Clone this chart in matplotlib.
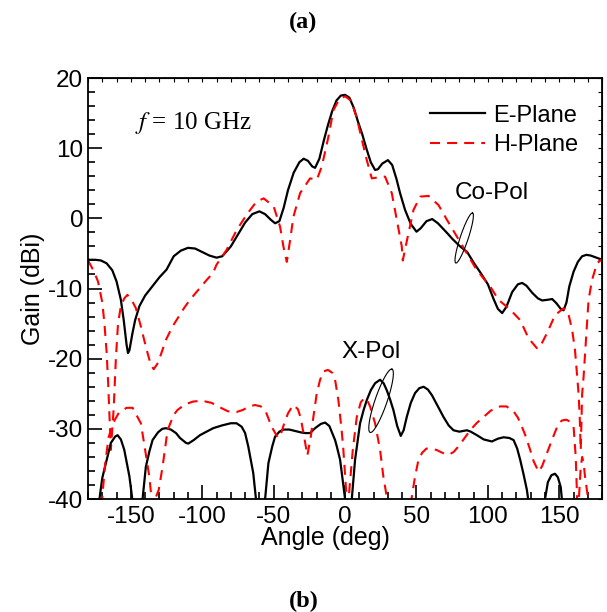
import numpy as np
import matplotlib
matplotlib.use('Agg')
import matplotlib.pyplot as plt
from matplotlib.ticker import MultipleLocator

plt.rcParams['font.family'] = 'Liberation Sans'
plt.rcParams['axes.unicode_minus'] = False

# E-plane, co-polar
e_co_ang = [-180, -175, -171, -167, -163, -160, -157, -155, -153, -152, -151, -149,
            -147, -144, -140, -135, -130, -125, -120, -115, -110, -105, -100, -95,
            -90, -86, -80, -75, -70, -65, -60, -56, -52, -49, -46, -43, -40, -36,
            -32, -29, -26, -23, -21, -18, -15, -12, -9, -6, -3, 0, 3, 6, 9, 12, 15,
            18, 21, 23, 26, 30, 33, 36, 38.5, 42, 46, 50, 53, 57, 61, 65, 71.5, 75,
            80, 85.5, 90, 95, 100, 104, 107, 110, 113, 117, 121, 124, 127, 131, 135,
            138, 142, 145, 148, 151, 153, 155, 157, 160, 163, 166, 169, 172, 176, 180]
e_co_gain = [-5.9, -5.9, -6.0, -6.4, -7.4, -9.0, -11.6, -14.5, -18.0, -19.2, -18.8, -16.5,
             -14.5, -12.5, -11.0, -9.7, -8.4, -7.3, -5.4, -4.6, -4.2, -4.3, -4.8, -5.3,
             -5.6, -5.4, -4.0, -2.3, -0.6, 0.6, 1.0, 0.6, -0.2, -0.7, -0.4, 1.5, 4.0, 6.5,
             8.0, 8.5, 8.2, 7.4, 7.2, 8.5, 11.0, 13.3, 15.3, 16.8, 17.5, 17.6, 17.2, 15.8,
             13.8, 12.0, 9.9, 8.0, 6.9, 7.0, 7.8, 8.3, 7.6, 5.6, 3.6, 1.2, -0.8, -1.9, -1.4,
             -0.4, -0.1, -0.7, -2.1, -2.9, -3.9, -4.8, -6.3, -7.8, -9.4, -11.5, -12.9,
             -13.5, -12.6, -10.5, -9.4, -9.2, -9.6, -10.6, -11.4, -11.7, -11.6, -11.5,
             -12.1, -12.9, -13.1, -12.0, -9.7, -7.6, -6.2, -5.4, -5.2, -5.3, -5.6, -5.9]

# H-plane, co-polar
h_co_ang = [-180, -176, -173, -170, -168.5, -167, -166, -165, -164, -163, -162, -160.5,
            -159, -157, -154.6, -152.4, -149, -146.5, -143, -139.5, -136, -134, -131,
            -125.4, -120.8, -112.8, -108.6, -97, -92.5, -90, -83, -76, -69, -62, -57,
            -50, -45.5, -43.2, -40.8, -38.5, -36.2, -31.5, -24.5, -19.8, -16.3, -11.7,
            -8.2, -4, 0, 4, 8, 12, 15.2, 18.7, 22, 28, 32.7, 36.2, 39.7, 40.4, 44.4,
            47.9, 52.6, 58.4, 65.4, 71.3, 78.3, 85.3, 92.3, 96.7, 101.6, 107.4, 115.6,
            122.6, 128.5, 134.3, 136, 141.3, 147, 153, 156, 159, 161, 162.3, 163.5,
            164.3, 165, 166, 167, 168.2, 169.4, 170.5, 172.9, 176.4, 180]
h_co_gain = [-6.0, -7.5, -9.0, -12.0, -15.0, -19.0, -23.0, -28.0, -33.0, -30.0, -27.0,
             -20.0, -15.0, -12.5, -11.4, -10.9, -11.8, -12.8, -15.4, -18.3, -20.9, -21.5,
             -20.6, -17.3, -15.4, -12.8, -11.6, -8.8, -7.8, -6.6, -4.5, -1.7, 0.5, 2.4,
             2.85, 1.7, -1.2, -4.0, -6.2, -3.1, 0.2, 3.6, 5.7, 5.5, 7.4, 11.6, 15.4, 17.0,
             17.4, 16.8, 14.5, 11.0, 8.3, 5.7, 5.8, 5.95, 3.6, -0.2, -4.0, -6.0, -2.1,
             1.2, 3.1, 3.2, 1.9, -0.2, -2.6, -5.0, -7.4, -8.5, -9.7, -11.6, -13.0, -14.5,
             -17.1, -18.5, -18.5, -16.4, -13.8, -12.8, -13.3, -15.9, -18.8, -22.0, -25.0,
             -28.3, -33.0, -25.0, -22.6, -18.8, -15.0, -11.6, -8.8, -6.4, -5.8]

# E-plane, cross-polar
e_x_ang = [-180, -174, -172, -170, -167.5, -164, -161, -159.3, -157, -154.6, -151, -149,
           -148, -143, -141.8, -139.5, -137, -134.8, -131, -128, -125.4, -122, -118.4,
           -115.6, -111.4, -109.8, -106, -101.6, -97, -92.3, -86, -80, -76, -72.4, -70,
           -67.8, -64.3, -62.4, -61.5, -57, -56, -53.7, -51, -49, -46, -43.2, -39, -35,
           -31, -28, -24.5, -21, -17, -14, -11, -7, -5.8, -3.5, -2.3, 0, 1, 3.5, 4.7, 7,
           10.5, 13, 15.2, 18, 21, 24.5, 27, 29.2, 31.5, 33.8, 36.5, 39, 41, 43.2, 46,
           49, 52, 55, 58, 60.8, 65, 68.9, 72.5, 75.9, 80, 85.3, 88, 92.3, 97, 102.8,
           107, 111, 115, 118, 120.5, 122.6, 125, 127.3, 128.2, 129, 139, 140, 142,
           144.5, 147, 149, 151, 151.8, 152.5, 180]
e_x_gain = [-45, -45, -40, -37, -34.9, -32, -31.1, -30.9, -31.5, -33, -36.8, -40, -44,
            -44, -40, -35.4, -33.2, -31.6, -30.5, -30.0, -29.9, -30.1, -30.6, -31.3, -32.0,
            -32.1, -31.6, -30.9, -30.4, -29.9, -29.5, -29.2, -29.2, -29.7, -30.6, -32.5,
            -36.3, -40, -44, -44, -40, -34.9, -32.5, -31.1, -30.4, -30.1, -30.1, -30.3,
            -30.5, -30.6, -30.6, -29.9, -29.3, -29.1, -29.6, -31.6, -32.5, -34.4, -36.3,
            -40, -43, -43, -40, -34.4, -29.2, -27.3, -25.9, -24.5, -23.5, -23.0, -23.5,
            -24.5, -25.8, -27.3, -29.6, -31.0, -30.2, -28.3, -26.3, -24.9, -24.2, -24.0,
            -24.4, -25.2, -26.8, -28.3, -29.5, -30.2, -30.4, -30.2, -30.4, -30.9, -31.5,
            -31.8, -31.4, -31.2, -31.3, -31.6, -32.8, -34.4, -36.5, -38.7, -40, -44, -44,
            -40, -37.6, -36.6, -36.4, -36.9, -38.3, -40, -44, -44]

# H-plane, cross-polar
h_x_ang = [-180, -171, -170, -168, -165.6, -162, -158.4, -153, -148.8, -143, -140, -137,
           -135.5, -134.5, -133, -130.5, -127.8, -124.3, -120, -117.3, -112, -106.3, -100,
           -93.4, -87, -82, -76, -71.5, -67, -63, -59, -56, -51.4, -47, -45, -43.4, -40,
           -36.4, -33, -31, -28.7, -26.4, -24, -22.2, -19.8, -17.5, -15, -12, -9, -7,
           -4.7, -2.5, -1.2, 0.7, 1.8, 3, 3.5, 5.4, 8.2, 11, 13.5, 15, 17.5, 21, 24.5,
           26.8, 29.2, 31, 45.5, 46.7, 49, 51.4, 54, 57, 64, 68, 72.4, 76, 79.4, 83,
           87.6, 92, 97, 102, 108.6, 113, 118, 121, 123.8, 126, 129.6, 132, 135.5, 138,
           140, 144.8, 149.5, 152, 155, 157.7, 160, 161.5, 162.5, 163, 163.7, 165, 166,
           167, 168, 170, 171, 180]
h_x_gain = [-44, -44, -39.7, -35, -31.2, -29, -27.7, -27, -27.0, -29.2, -33, -36.9, -40,
            -41, -40, -38.7, -35.4, -30.2, -28.0, -27.3, -26.5, -26.1, -26.0, -26.3, -27.0,
            -27.5, -27.6, -27.3, -26.8, -26.6, -26.8, -27.3, -29.7, -31.3, -30.8, -29.7,
            -27.8, -26.6, -27.2, -28.5, -31.1, -33.8, -31.1, -28.3, -24.9, -23.0, -21.8,
            -21.6, -22.0, -23.0, -25.9, -30.0, -33.0, -38.7, -42, -38.7, -37.5, -33.0,
            -28.3, -26.2, -25.6, -25.7, -26.8, -29.2, -33.0, -36.8, -39.7, -44, -44, -39.7,
            -36.8, -34.4, -33.4, -32.8, -33.0, -33.4, -33.7, -33.3, -32.5, -31.5, -30.2,
            -29.2, -28.3, -27.4, -26.8, -26.8, -27.5, -28.4, -29.7, -30.8, -33.0, -34.6,
            -36.1, -35.3, -34.2, -31.6, -29.2, -28.8, -28.7, -29.0, -29.7, -34, -40, -42,
            -40, -35.5, -34.0, -34.8, -36.8, -39.7, -43, -43]

fig = plt.figure(figsize=(6.07, 6.12), dpi=100)
ax = fig.add_axes([0.145, 0.1846, 0.847, 0.6879])

red_dash = dict(color='#ff0000', lw=1.5, dashes=(4.8, 3.4))
ax.plot(e_co_ang, e_co_gain, color='black', lw=1.6, label='E-Plane')
ax.plot(h_co_ang, h_co_gain, label='H-Plane', **red_dash)
ax.plot(e_x_ang, e_x_gain, color='black', lw=1.6)
ax.plot(h_x_ang, h_x_gain, **red_dash)

ax.set_xlim(-180, 180)
ax.set_ylim(-40, 20)
ax.xaxis.set_major_locator(MultipleLocator(50))
ax.xaxis.set_minor_locator(MultipleLocator(10))
ax.yaxis.set_major_locator(MultipleLocator(10))
ax.yaxis.set_minor_locator(MultipleLocator(2))
ax.tick_params(which='both', direction='in', top=False, right=False, labelsize=17.5,
               width=1.2)
ax.tick_params(which='major', length=10)
ax.tick_params(which='minor', length=5)
ax.tick_params(axis='x', pad=5)
for s in ax.spines.values():
    s.set_linewidth(1.3)

# short ticks on top and right edges
top = ax.secondary_xaxis('top')
top.xaxis.set_major_locator(MultipleLocator(10))
top.tick_params(direction='in', length=3, width=0.8, labeltop=False)
right = ax.secondary_yaxis('right')
right.yaxis.set_major_locator(MultipleLocator(2))
right.tick_params(direction='in', length=3, width=0.8, labelright=False)

ax.set_xlabel('Angle (deg)', fontsize=18)
ax.xaxis.set_label_coords((325 - 88) / 514, -0.064)
ax.set_ylabel('Gain (dBi)', fontsize=18, labelpad=2)

ax.legend(loc='upper right', frameon=False, fontsize=17, handlelength=2.3,
          handletextpad=0.35, labelspacing=0.32, borderpad=0, borderaxespad=0,
          bbox_to_anchor=(0.953, 0.937))

ax.text(-147, 13.6, r'$f$ = 10 GHz', family='Liberation Serif', fontsize=18,
        va='center', ha='left', math_fontfamily='stix')
ax.text(77, 3.6, 'Co-Pol', fontsize=17.5, va='center', ha='left')
ax.text(-2.3, -19.0, 'X-Pol', fontsize=17.5, va='center', ha='left')

# thin tilted loops marking the curve groups
px_deg = fig.get_figwidth() * fig.dpi * 0.847 / 360
px_db = fig.get_figheight() * fig.dpi * 0.6879 / 60


def loop(cx, cy, a, b, tilt):
    t = np.linspace(0, 2 * np.pi, 200)
    phi = np.radians(tilt)
    u, v = a * np.cos(t), b * np.sin(t)
    ox = u * np.sin(phi) + v * np.cos(phi)
    oy = u * np.cos(phi) - v * np.sin(phi)
    ax.plot(cx + ox / px_deg, cy + oy / px_db, color='black', lw=0.8)


loop(83.4, -2.8, 26.4, 4, 18.5)
loop(25.2, -26.0, 33.5, 6, 19)

fig.text(0.5, 1 - 22 / 612, '(a)', family='Liberation Serif', weight='bold',
         fontsize=17.5, ha='center', va='center')
fig.text(0.5, 1 - 601 / 612, '(b)', family='Liberation Serif', weight='bold',
         fontsize=17.5, ha='center', va='center')

fig.savefig('out.png', dpi=100)
